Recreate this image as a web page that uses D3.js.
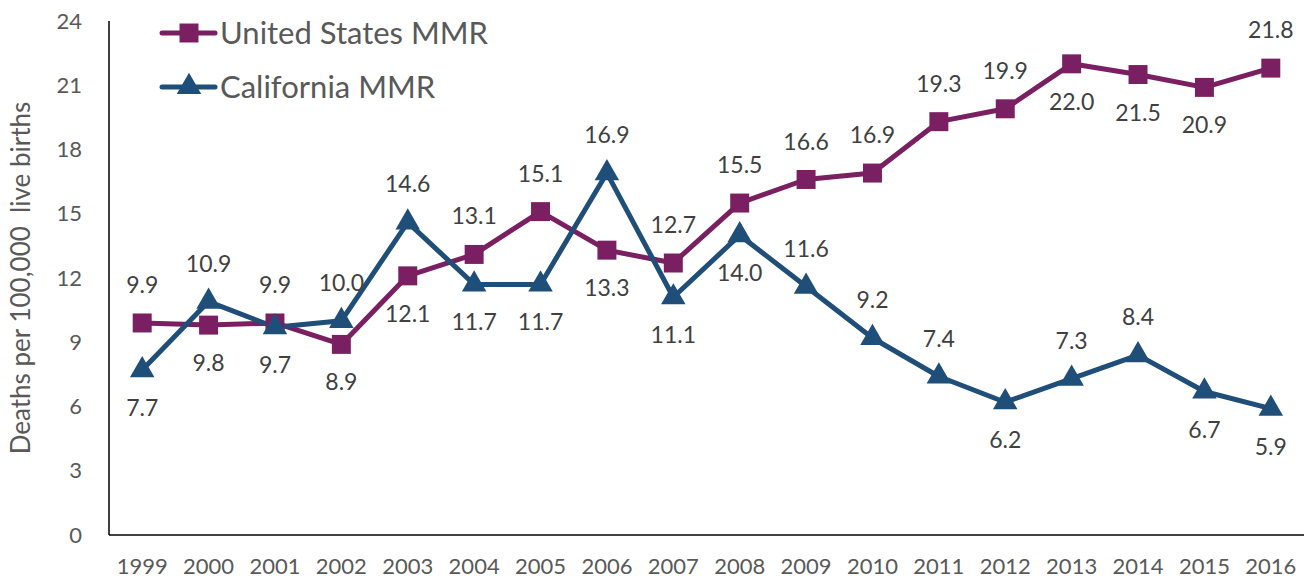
<!DOCTYPE html>
<html>
<head>
<meta charset="utf-8">
<script src="https://cdn.jsdelivr.net/npm/d3@7"></script>
<style>
  body { margin: 0; background: #fff; }
  svg { display: block; }
  text { font-family: "Lato", "Open Sans", sans-serif; }
</style>
</head>
<body>
<svg width="1306" height="586"></svg>
<script>
// data
var years = ["1999","2000","2001","2002","2003","2004","2005","2006","2007","2008","2009","2010","2011","2012","2013","2014","2015","2016"];
var usMMR = [9.9, 9.8, 9.9, 8.9, 12.1, 13.1, 15.1, 13.3, 12.7, 15.5, 16.6, 16.9, 19.3, 19.9, 22.0, 21.5, 20.9, 21.8];
var caMMR = [7.7, 10.9, 9.7, 10.0, 14.6, 11.7, 11.7, 16.9, 11.1, 14.0, 11.6, 9.2, 7.4, 6.2, 7.3, 8.4, 6.7, 5.9];
var yTicks = [0, 3, 6, 9, 12, 15, 18, 21, 24];
// label side: 1 = above, -1 = below
var usSide = [1,-1,1,-1,-1,1,1,-1,1,1,1,1,1,1,-1,-1,-1,1];
var caSide = [-1,1,-1,1,1,-1,-1,1,-1,-1,1,1,1,-1,1,1,-1,-1];

var svg = d3.select("svg");
var mLeft = 109, mRight = 1304, mTop = 21, mBottom = 535;

var x = d3.scaleBand().domain(years).range([mLeft, mRight]);
var y = d3.scaleLinear().domain([0, 24]).range([mBottom, mTop]);
var cx = function(d, i) { return x(years[i]) + x.bandwidth() / 2; };

// y tick labels
svg.append("g")
    .selectAll("text")
    .data(yTicks)
    .enter()
    .append("text")
    .attr("x", mLeft - 27)
    .attr("y", function(d) { return y(d); })
    .attr("dy", "0.35em")
    .attr("text-anchor", "end")
    .style("font-size", "22px")
    .style("fill", "#595959")
    .text(function(d) { return d; });

// x tick labels
svg.append("g")
    .selectAll("text")
    .data(years)
    .enter()
    .append("text")
    .attr("x", function(d) { return x(d) + x.bandwidth() / 2; })
    .attr("y", 566)
    .attr("dy", "0.35em")
    .attr("text-anchor", "middle")
    .style("font-size", "22px")
    .style("fill", "#595959")
    .text(function(d) { return d; });

// axes lines
svg.append("line")
    .attr("x1", mLeft).attr("x2", mLeft)
    .attr("y1", mTop).attr("y2", mBottom)
    .style("stroke", "#000").style("stroke-width", 1.5);
svg.append("line")
    .attr("x1", mLeft).attr("x2", mRight)
    .attr("y1", mBottom).attr("y2", mBottom)
    .style("stroke", "#000").style("stroke-width", 1.5);

// y title
svg.append("text")
    .attr("transform", "translate(30," + ((mTop + mBottom) / 2) + ") rotate(-90)")
    .attr("text-anchor", "middle")
    .style("font-size", "26px")
    .style("fill", "#595959")
    .attr("xml:space", "preserve")
    .text("Deaths per 100,000  live births");

var series = [
    {name: "United States MMR", values: usMMR, side: usSide, color: "#7A1F62", shape: d3.symbolSquare, size: 360},
    {name: "California MMR", values: caMMR, side: caSide, color: "#1F4E79", shape: d3.symbolTriangle, size: 260}
];

var line = d3.line()
    .x(cx)
    .y(function(d) { return y(d); });

series.forEach(function(s) {
    svg.append("path")
        .datum(s.values)
        .attr("d", line)
        .style("fill", "none")
        .style("stroke", s.color)
        .style("stroke-width", 5)
        .style("stroke-linejoin", "round");
});

series.forEach(function(s) {
    svg.append("g")
        .selectAll("path")
        .data(s.values)
        .enter()
        .append("path")
        .attr("d", d3.symbol().type(s.shape).size(s.size))
        .attr("transform", function(d, i) { return "translate(" + cx(d, i) + "," + y(d) + ")"; })
        .style("fill", s.color);

    svg.append("g")
        .selectAll("text")
        .data(s.values)
        .enter()
        .append("text")
        .attr("x", cx)
        .attr("y", function(d, i) { return y(d) - s.side[i] * 38; })
        .attr("dy", "0.35em")
        .attr("text-anchor", "middle")
        .style("font-size", "23px")
        .style("fill", "#404040")
        .text(function(d) { return d.toFixed(1); });
});

// legend
var legend = svg.append("g");
series.forEach(function(s, i) {
    var ly = 33 + i * 54;
    legend.append("line")
        .attr("x1", 162).attr("x2", 215)
        .attr("y1", ly).attr("y2", ly)
        .style("stroke", s.color).style("stroke-width", 5)
        .style("stroke-linecap", "round");
    legend.append("path")
        .attr("d", d3.symbol().type(s.shape).size(s.size))
        .attr("transform", "translate(189," + ly + ")")
        .style("fill", s.color);
    legend.append("text")
        .attr("x", 220)
        .attr("y", ly)
        .attr("dy", "0.35em")
        .style("font-size", "31px")
        .style("fill", "#595959")
        .text(s.name);
});
</script>
</body>
</html>
